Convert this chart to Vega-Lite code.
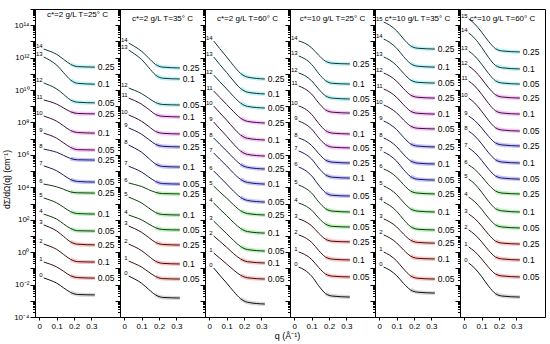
{
"$schema":"https://vega.github.io/schema/vega-lite/v6.json",
"padding":{"left":2,"top":4,"right":4,"bottom":0},
"bounds":"flush",
"spacing":0,
"datasets":{
"m":[
{"k":"a0","n":"0","g":"K","c":""},{"k":"a1","n":"1","g":"R","c":"0.05"},{"k":"a2","n":"2","g":"R","c":"0.1"},{"k":"a3","n":"3","g":"R","c":"0.25"},{"k":"a4","n":"4","g":"G","c":"0.05"},{"k":"a5","n":"5","g":"G","c":"0.1"},{"k":"a6","n":"6","g":"G","c":"0.25"},{"k":"a7","n":"7","g":"B","c":"0.05"},{"k":"a8","n":"8","g":"B","c":"0.25"},{"k":"a9","n":"9","g":"M","c":"0.05"},{"k":"a10","n":"10","g":"M","c":"0.1"},{"k":"a11","n":"11","g":"M","c":"0.25"},{"k":"a12","n":"12","g":"C","c":"0.05"},{"k":"a13","n":"13","g":"C","c":"0.1"},{"k":"a14","n":"14","g":"C","c":"0.25"},
{"k":"b0","n":"0","g":"K","c":""},{"k":"b1","n":"1","g":"R","c":"0.05"},{"k":"b2","n":"2","g":"R","c":"0.1"},{"k":"b3","n":"3","g":"R","c":"0.25"},{"k":"b4","n":"4","g":"G","c":"0.05"},{"k":"b5","n":"5","g":"G","c":"0.1"},{"k":"b6","n":"6","g":"G","c":"0.25"},{"k":"b7","n":"7","g":"B","c":"0.05"},{"k":"b8","n":"8","g":"B","c":"0.1"},{"k":"b9","n":"9","g":"B","c":"0.25"},{"k":"b10","n":"10","g":"M","c":"0.05"},{"k":"b11","n":"11","g":"M","c":"0.1"},{"k":"b12","n":"12","g":"C","c":"0.05"},{"k":"b13","n":"13","g":"C","c":"0.1"},{"k":"b14","n":"14","g":"C","c":"0.25"},
{"k":"c0","n":"0","g":"K","c":""},{"k":"c1","n":"1","g":"R","c":"0.05"},{"k":"c2","n":"2","g":"R","c":"0.1"},{"k":"c3","n":"3","g":"G","c":"0.05"},{"k":"c4","n":"4","g":"G","c":"0.1"},{"k":"c5","n":"5","g":"G","c":"0.25"},{"k":"c6","n":"6","g":"B","c":"0.05"},{"k":"c7","n":"7","g":"B","c":"0.1"},{"k":"c8","n":"8","g":"B","c":"0.25"},{"k":"c9","n":"9","g":"M","c":"0.05"},{"k":"c10","n":"10","g":"M","c":"0.1"},{"k":"c11","n":"11","g":"M","c":"0.25"},{"k":"c12","n":"12","g":"C","c":"0.05"},{"k":"c13","n":"13","g":"C","c":"0.1"},{"k":"c14","n":"14","g":"C","c":"0.25"},
{"k":"d0","n":"0","g":"K","c":""},{"k":"d1","n":"1","g":"R","c":"0.05"},{"k":"d2","n":"2","g":"R","c":"0.1"},{"k":"d3","n":"3","g":"R","c":"0.25"},{"k":"d4","n":"4","g":"G","c":"0.05"},{"k":"d5","n":"5","g":"G","c":"0.1"},{"k":"d6","n":"6","g":"B","c":"0.05"},{"k":"d7","n":"7","g":"B","c":"0.1"},{"k":"d8","n":"8","g":"B","c":"0.25"},{"k":"d9","n":"9","g":"M","c":"0.05"},{"k":"d10","n":"10","g":"M","c":"0.1"},{"k":"d11","n":"11","g":"M","c":"0.25"},{"k":"d12","n":"12","g":"C","c":"0.05"},{"k":"d13","n":"13","g":"C","c":"0.1"},{"k":"d14","n":"14","g":"C","c":"0.25"},
{"k":"e0","n":"0","g":"K","c":""},{"k":"e1","n":"1","g":"R","c":"0.05"},{"k":"e2","n":"2","g":"R","c":"0.1"},{"k":"e3","n":"3","g":"R","c":"0.25"},{"k":"e4","n":"4","g":"G","c":"0.05"},{"k":"e5","n":"5","g":"G","c":"0.1"},{"k":"e6","n":"6","g":"G","c":"0.25"},{"k":"e7","n":"7","g":"B","c":"0.05"},{"k":"e8","n":"8","g":"B","c":"0.1"},{"k":"e9","n":"9","g":"B","c":"0.25"},{"k":"e10","n":"10","g":"M","c":"0.05"},{"k":"e11","n":"11","g":"M","c":"0.1"},{"k":"e12","n":"12","g":"M","c":"0.25"},{"k":"e13","n":"13","g":"C","c":"0.05"},{"k":"e14","n":"14","g":"C","c":"0.1"},{"k":"e15","n":"15","g":"C","c":"0.25"},
{"k":"f0","n":"0","g":"K","c":""},{"k":"f1","n":"1","g":"R","c":"0.05"},{"k":"f2","n":"2","g":"R","c":"0.1"},{"k":"f3","n":"3","g":"R","c":"0.25"},{"k":"f4","n":"4","g":"G","c":"0.05"},{"k":"f5","n":"5","g":"G","c":"0.1"},{"k":"f6","n":"6","g":"G","c":"0.25"},{"k":"f7","n":"7","g":"B","c":"0.05"},{"k":"f8","n":"8","g":"B","c":"0.1"},{"k":"f9","n":"9","g":"B","c":"0.25"},{"k":"f10","n":"10","g":"M","c":"0.05"},{"k":"f11","n":"11","g":"M","c":"0.1"},{"k":"f12","n":"12","g":"M","c":"0.25"},{"k":"f13","n":"13","g":"C","c":"0.05"},{"k":"f14","n":"14","g":"C","c":"0.1"},{"k":"f15","n":"15","g":"C","c":"0.25"}
],
"s":[
{"k":"a14","q":0.025,"v":3.4e12},{"k":"a14","q":0.06,"v":2.5e12},{"k":"a14","q":0.1,"v":1.6e12},{"k":"a14","q":0.14,"v":7.8e11},{"k":"a14","q":0.18,"v":3.9e11},{"k":"a14","q":0.22,"v":2.8e11},{"k":"a14","q":0.32,"v":2.6e11},
{"k":"a13","q":0.025,"v":1.1e12},{"k":"a13","q":0.06,"v":6.9e11},{"k":"a13","q":0.1,"v":3.5e11},{"k":"a13","q":0.14,"v":1.17e11},{"k":"a13","q":0.18,"v":4.2e10},{"k":"a13","q":0.22,"v":2.6e10},{"k":"a13","q":0.32,"v":2.3e10},
{"k":"a12","q":0.025,"v":2.75e10},{"k":"a12","q":0.06,"v":1.95e10},{"k":"a12","q":0.1,"v":1.17e10},{"k":"a12","q":0.14,"v":5.4e9},{"k":"a12","q":0.18,"v":2.45e9},{"k":"a12","q":0.22,"v":1.78e9},{"k":"a12","q":0.32,"v":1.62e9},
{"k":"a11","q":0.025,"v":2.45e9},{"k":"a11","q":0.06,"v":1.95e9},{"k":"a11","q":0.1,"v":1.35e9},{"k":"a11","q":0.14,"v":7.8e8},{"k":"a11","q":0.18,"v":4.6e8},{"k":"a11","q":0.22,"v":3.6e8},{"k":"a11","q":0.32,"v":3.4e8},
{"k":"a10","q":0.025,"v":2.5e8},{"k":"a10","q":0.06,"v":1.86e8},{"k":"a10","q":0.1,"v":1.2e8},{"k":"a10","q":0.14,"v":6.2e7},{"k":"a10","q":0.18,"v":3.2e7},{"k":"a10","q":0.22,"v":2.4e7},{"k":"a10","q":0.32,"v":2.2e7},
{"k":"a9","q":0.025,"v":2.2e7},{"k":"a9","q":0.06,"v":1.66e7},{"k":"a9","q":0.1,"v":1.07e7},{"k":"a9","q":0.14,"v":5.5e6},{"k":"a9","q":0.18,"v":2.9e6},{"k":"a9","q":0.22,"v":2.1e6},{"k":"a9","q":0.32,"v":2.0e6},
{"k":"a8","q":0.025,"v":2.3e6},{"k":"a8","q":0.06,"v":1.9e6},{"k":"a8","q":0.1,"v":1.45e6},{"k":"a8","q":0.14,"v":9.3e5},{"k":"a8","q":0.18,"v":6.0e5},{"k":"a8","q":0.22,"v":5.0e5},{"k":"a8","q":0.32,"v":4.8e5},
{"k":"a7","q":0.025,"v":2.1e5},{"k":"a7","q":0.06,"v":1.58e5},{"k":"a7","q":0.1,"v":1.05e5},{"k":"a7","q":0.14,"v":5.6e4},{"k":"a7","q":0.18,"v":3.0e4},{"k":"a7","q":0.22,"v":2.3e4},{"k":"a7","q":0.32,"v":2.1e4},
{"k":"a6","q":0.025,"v":1.58e4},{"k":"a6","q":0.06,"v":1.35e4},{"k":"a6","q":0.1,"v":1.07e4},{"k":"a6","q":0.14,"v":7600},{"k":"a6","q":0.18,"v":5200},{"k":"a6","q":0.22,"v":4600},{"k":"a6","q":0.32,"v":4400},
{"k":"a5","q":0.025,"v":2200},{"k":"a5","q":0.06,"v":1660},{"k":"a5","q":0.1,"v":1100},{"k":"a5","q":0.14,"v":590},{"k":"a5","q":0.18,"v":316},{"k":"a5","q":0.22,"v":240},{"k":"a5","q":0.32,"v":224},
{"k":"a4","q":0.025,"v":224},{"k":"a4","q":0.06,"v":166},{"k":"a4","q":0.1,"v":110},{"k":"a4","q":0.14,"v":55},{"k":"a4","q":0.18,"v":29},{"k":"a4","q":0.22,"v":21},{"k":"a4","q":0.32,"v":20},
{"k":"a3","q":0.025,"v":48},{"k":"a3","q":0.06,"v":34},{"k":"a3","q":0.1,"v":20.4},{"k":"a3","q":0.14,"v":9.3},{"k":"a3","q":0.18,"v":4.3},{"k":"a3","q":0.22,"v":3.1},{"k":"a3","q":0.32,"v":2.8},
{"k":"a2","q":0.025,"v":3.16},{"k":"a2","q":0.06,"v":2.34},{"k":"a2","q":0.1,"v":1.48},{"k":"a2","q":0.14,"v":0.72},{"k":"a2","q":0.18,"v":0.36},{"k":"a2","q":0.22,"v":0.26},{"k":"a2","q":0.32,"v":0.245},
{"k":"a1","q":0.025,"v":0.245},{"k":"a1","q":0.06,"v":0.186},{"k":"a1","q":0.1,"v":0.123},{"k":"a1","q":0.14,"v":0.066},{"k":"a1","q":0.18,"v":0.035},{"k":"a1","q":0.22,"v":0.027},{"k":"a1","q":0.32,"v":0.025},
{"k":"a0","q":0.025,"v":0.0257},{"k":"a0","q":0.06,"v":0.019},{"k":"a0","q":0.1,"v":0.0123},{"k":"a0","q":0.14,"v":0.0063},{"k":"a0","q":0.18,"v":0.0033},{"k":"a0","q":0.22,"v":0.00245},{"k":"a0","q":0.32,"v":0.0023},
{"k":"b14","q":0.025,"v":7.9e12},{"k":"b14","q":0.06,"v":4.8e12},{"k":"b14","q":0.1,"v":2.45e12},{"k":"b14","q":0.14,"v":9.5e11},{"k":"b14","q":0.18,"v":3.8e11},{"k":"b14","q":0.22,"v":2.6e11},{"k":"b14","q":0.32,"v":2.3e11},
{"k":"b13","q":0.025,"v":2.95e12},{"k":"b13","q":0.06,"v":1.66e12},{"k":"b13","q":0.1,"v":7.6e11},{"k":"b13","q":0.14,"v":2.5e11},{"k":"b13","q":0.18,"v":8.5e10},{"k":"b13","q":0.22,"v":5.4e10},{"k":"b13","q":0.32,"v":4.8e10},
{"k":"b12","q":0.025,"v":1.35e10},{"k":"b12","q":0.06,"v":9.5e9},{"k":"b12","q":0.1,"v":6.0e9},{"k":"b12","q":0.14,"v":3.16e9},{"k":"b12","q":0.18,"v":1.7e9},{"k":"b12","q":0.22,"v":1.29e9},{"k":"b12","q":0.32,"v":1.2e9},
{"k":"b11","q":0.025,"v":3.2e9},{"k":"b11","q":0.06,"v":2.24e9},{"k":"b11","q":0.1,"v":1.32e9},{"k":"b11","q":0.14,"v":6.5e8},{"k":"b11","q":0.18,"v":3.16e8},{"k":"b11","q":0.22,"v":2.4e8},{"k":"b11","q":0.32,"v":2.2e8},
{"k":"b10","q":0.025,"v":2.9e8},{"k":"b10","q":0.06,"v":2.0e8},{"k":"b10","q":0.1,"v":1.17e8},{"k":"b10","q":0.14,"v":5.75e7},{"k":"b10","q":0.18,"v":2.8e7},{"k":"b10","q":0.22,"v":2.15e7},{"k":"b10","q":0.32,"v":1.95e7},
{"k":"b9","q":0.025,"v":4.6e7},{"k":"b9","q":0.06,"v":3.16e7},{"k":"b9","q":0.1,"v":1.86e7},{"k":"b9","q":0.14,"v":9.1e6},{"k":"b9","q":0.18,"v":4.5e6},{"k":"b9","q":0.22,"v":3.4e6},{"k":"b9","q":0.32,"v":3.1e6},
{"k":"b8","q":0.025,"v":4.1e6},{"k":"b8","q":0.06,"v":2.6e6},{"k":"b8","q":0.1,"v":1.45e6},{"k":"b8","q":0.14,"v":6.2e5},{"k":"b8","q":0.18,"v":2.75e5},{"k":"b8","q":0.22,"v":1.95e5},{"k":"b8","q":0.32,"v":1.78e5},
{"k":"b7","q":0.025,"v":2.0e5},{"k":"b7","q":0.06,"v":1.41e5},{"k":"b7","q":0.1,"v":8.7e4},{"k":"b7","q":0.14,"v":4.4e4},{"k":"b7","q":0.18,"v":2.3e4},{"k":"b7","q":0.22,"v":1.7e4},{"k":"b7","q":0.32,"v":1.58e4},
{"k":"b6","q":0.025,"v":1.86e4},{"k":"b6","q":0.06,"v":1.48e4},{"k":"b6","q":0.1,"v":1.12e4},{"k":"b6","q":0.14,"v":7200},{"k":"b6","q":0.18,"v":4900},{"k":"b6","q":0.22,"v":4100},{"k":"b6","q":0.32,"v":3900},
{"k":"b5","q":0.025,"v":2500},{"k":"b5","q":0.06,"v":1740},{"k":"b5","q":0.1,"v":1070},{"k":"b5","q":0.14,"v":540},{"k":"b5","q":0.18,"v":280},{"k":"b5","q":0.22,"v":210},{"k":"b5","q":0.32,"v":195},
{"k":"b4","q":0.025,"v":195},{"k":"b4","q":0.06,"v":145},{"k":"b4","q":0.1,"v":98},{"k":"b4","q":0.14,"v":55},{"k":"b4","q":0.18,"v":32},{"k":"b4","q":0.22,"v":25},{"k":"b4","q":0.32,"v":23.4},
{"k":"b3","q":0.025,"v":41},{"k":"b3","q":0.06,"v":28},{"k":"b3","q":0.1,"v":16.6},{"k":"b3","q":0.14,"v":8.1},{"k":"b3","q":0.18,"v":4.0},{"k":"b3","q":0.22,"v":3.0},{"k":"b3","q":0.32,"v":2.75},
{"k":"b2","q":0.025,"v":3.16},{"k":"b2","q":0.06,"v":2.14},{"k":"b2","q":0.1,"v":1.23},{"k":"b2","q":0.14,"v":0.575},{"k":"b2","q":0.18,"v":0.275},{"k":"b2","q":0.22,"v":0.204},{"k":"b2","q":0.32,"v":0.186},
{"k":"b1","q":0.025,"v":0.282},{"k":"b1","q":0.06,"v":0.195},{"k":"b1","q":0.1,"v":0.12},{"k":"b1","q":0.14,"v":0.06},{"k":"b1","q":0.18,"v":0.0316},{"k":"b1","q":0.22,"v":0.0234},{"k":"b1","q":0.32,"v":0.0219},
{"k":"b0","q":0.025,"v":0.0339},{"k":"b0","q":0.06,"v":0.0219},{"k":"b0","q":0.1,"v":0.012},{"k":"b0","q":0.14,"v":0.0051},{"k":"b0","q":0.18,"v":0.0023},{"k":"b0","q":0.22,"v":0.00162},{"k":"b0","q":0.32,"v":0.00148},
{"k":"c14","q":0.025,"v":1.07e13},{"k":"c14","q":0.06,"v":3.6e12},{"k":"c14","q":0.1,"v":1.1e12},{"k":"c14","q":0.14,"v":3.16e11},{"k":"c14","q":0.18,"v":1.07e11},{"k":"c14","q":0.22,"v":6.3e10},{"k":"c14","q":0.32,"v":4.8e10},
{"k":"c13","q":0.025,"v":1.1e12},{"k":"c13","q":0.06,"v":3.8e11},{"k":"c13","q":0.1,"v":1.2e11},{"k":"c13","q":0.14,"v":3.6e10},{"k":"c13","q":0.18,"v":1.26e10},{"k":"c13","q":0.22,"v":7.4e9},{"k":"c13","q":0.32,"v":5.75e9},
{"k":"c12","q":0.025,"v":8.5e10},{"k":"c12","q":0.06,"v":3.3e10},{"k":"c12","q":0.1,"v":1.17e10},{"k":"c12","q":0.14,"v":4.0e9},{"k":"c12","q":0.18,"v":1.58e9},{"k":"c12","q":0.22,"v":9.8e8},{"k":"c12","q":0.32,"v":7.8e8},
{"k":"c11","q":0.025,"v":8.7e9},{"k":"c11","q":0.06,"v":3.55e9},{"k":"c11","q":0.1,"v":1.29e9},{"k":"c11","q":0.14,"v":4.6e8},{"k":"c11","q":0.18,"v":1.86e8},{"k":"c11","q":0.22,"v":1.17e8},{"k":"c11","q":0.32,"v":9.3e7},
{"k":"c10","q":0.025,"v":1.05e9},{"k":"c10","q":0.06,"v":4.0e8},{"k":"c10","q":0.1,"v":1.38e8},{"k":"c10","q":0.14,"v":4.5e7},{"k":"c10","q":0.18,"v":1.7e7},{"k":"c10","q":0.22,"v":1.05e7},{"k":"c10","q":0.32,"v":8.3e6},
{"k":"c9","q":0.025,"v":1.07e8},{"k":"c9","q":0.06,"v":4.1e7},{"k":"c9","q":0.1,"v":1.41e7},{"k":"c9","q":0.14,"v":4.6e6},{"k":"c9","q":0.18,"v":1.74e6},{"k":"c9","q":0.22,"v":1.07e6},{"k":"c9","q":0.32,"v":8.5e5},
{"k":"c8","q":0.025,"v":1.1e7},{"k":"c8","q":0.06,"v":4.6e6},{"k":"c8","q":0.1,"v":1.74e6},{"k":"c8","q":0.14,"v":6.3e5},{"k":"c8","q":0.18,"v":2.6e5},{"k":"c8","q":0.22,"v":1.7e5},{"k":"c8","q":0.32,"v":1.35e5},
{"k":"c7","q":0.025,"v":1.32e6},{"k":"c7","q":0.06,"v":5.5e5},{"k":"c7","q":0.1,"v":2.1e5},{"k":"c7","q":0.14,"v":7.4e4},{"k":"c7","q":0.18,"v":3.1e4},{"k":"c7","q":0.22,"v":2.0e4},{"k":"c7","q":0.32,"v":1.58e4},
{"k":"c6","q":0.025,"v":1.02e5},{"k":"c6","q":0.06,"v":4.3e4},{"k":"c6","q":0.1,"v":1.58e4},{"k":"c6","q":0.14,"v":5750},{"k":"c6","q":0.18,"v":2400},{"k":"c6","q":0.22,"v":1550},{"k":"c6","q":0.32,"v":1230},
{"k":"c5","q":0.025,"v":1.2e4},{"k":"c5","q":0.06,"v":5250},{"k":"c5","q":0.1,"v":2140},{"k":"c5","q":0.14,"v":830},{"k":"c5","q":0.18,"v":360},{"k":"c5","q":0.22,"v":240},{"k":"c5","q":0.32,"v":195},
{"k":"c4","q":0.025,"v":1070},{"k":"c4","q":0.06,"v":460},{"k":"c4","q":0.1,"v":178},{"k":"c4","q":0.14,"v":68},{"k":"c4","q":0.18,"v":29},{"k":"c4","q":0.22,"v":18.6},{"k":"c4","q":0.32,"v":15},
{"k":"c3","q":0.025,"v":83},{"k":"c3","q":0.06,"v":35.5},{"k":"c3","q":0.1,"v":13.8},{"k":"c3","q":0.14,"v":5.25},{"k":"c3","q":0.18,"v":2.24},{"k":"c3","q":0.22,"v":1.45},{"k":"c3","q":0.32,"v":1.17},
{"k":"c2","q":0.025,"v":10},{"k":"c2","q":0.06,"v":4.7},{"k":"c2","q":0.1,"v":2.0},{"k":"c2","q":0.14,"v":0.81},{"k":"c2","q":0.18,"v":0.38},{"k":"c2","q":0.22,"v":0.257},{"k":"c2","q":0.32,"v":0.214},
{"k":"c1","q":0.025,"v":0.89},{"k":"c1","q":0.06,"v":0.43},{"k":"c1","q":0.1,"v":0.186},{"k":"c1","q":0.14,"v":0.079},{"k":"c1","q":0.18,"v":0.038},{"k":"c1","q":0.22,"v":0.0263},{"k":"c1","q":0.32,"v":0.0219},
{"k":"c0","q":0.025,"v":0.105},{"k":"c0","q":0.06,"v":0.038},{"k":"c0","q":0.1,"v":0.0123},{"k":"c0","q":0.14,"v":0.0038},{"k":"c0","q":0.18,"v":0.00135},{"k":"c0","q":0.22,"v":0.00081},{"k":"c0","q":0.32,"v":0.00063},
{"k":"d14","q":0.025,"v":1.07e13},{"k":"d14","q":0.06,"v":7.8e12},{"k":"d14","q":0.1,"v":4.0e12},{"k":"d14","q":0.14,"v":1.41e12},{"k":"d14","q":0.18,"v":6.0e11},{"k":"d14","q":0.22,"v":4.5e11},{"k":"d14","q":0.32,"v":4.1e11},
{"k":"d13","q":0.025,"v":1.26e12},{"k":"d13","q":0.06,"v":8.5e11},{"k":"d13","q":0.1,"v":3.8e11},{"k":"d13","q":0.14,"v":1.07e11},{"k":"d13","q":0.18,"v":3.8e10},{"k":"d13","q":0.22,"v":2.6e10},{"k":"d13","q":0.32,"v":2.34e10},
{"k":"d12","q":0.025,"v":1.12e11},{"k":"d12","q":0.06,"v":7.8e10},{"k":"d12","q":0.1,"v":3.7e10},{"k":"d12","q":0.14,"v":1.15e10},{"k":"d12","q":0.18,"v":4.4e9},{"k":"d12","q":0.22,"v":3.16e9},{"k":"d12","q":0.32,"v":2.8e9},
{"k":"d11","q":0.025,"v":1.78e10},{"k":"d11","q":0.06,"v":1.2e10},{"k":"d11","q":0.1,"v":5.6e9},{"k":"d11","q":0.14,"v":1.62e9},{"k":"d11","q":0.18,"v":6.0e8},{"k":"d11","q":0.22,"v":4.3e8},{"k":"d11","q":0.32,"v":3.8e8},
{"k":"d10","q":0.025,"v":1.05e9},{"k":"d10","q":0.06,"v":7.1e8},{"k":"d10","q":0.1,"v":3.16e8},{"k":"d10","q":0.14,"v":8.9e7},{"k":"d10","q":0.18,"v":3.16e7},{"k":"d10","q":0.22,"v":2.2e7},{"k":"d10","q":0.32,"v":1.95e7},
{"k":"d9","q":0.025,"v":1.23e8},{"k":"d9","q":0.06,"v":8.3e7},{"k":"d9","q":0.1,"v":3.9e7},{"k":"d9","q":0.14,"v":1.15e7},{"k":"d9","q":0.18,"v":4.3e6},{"k":"d9","q":0.22,"v":3.0e6},{"k":"d9","q":0.32,"v":2.7e6},
{"k":"d8","q":0.025,"v":1.1e7},{"k":"d8","q":0.06,"v":7.8e6},{"k":"d8","q":0.1,"v":3.8e6},{"k":"d8","q":0.14,"v":1.23e6},{"k":"d8","q":0.18,"v":4.8e5},{"k":"d8","q":0.22,"v":3.55e5},{"k":"d8","q":0.32,"v":3.16e5},
{"k":"d7","q":0.025,"v":1.74e6},{"k":"d7","q":0.06,"v":1.17e6},{"k":"d7","q":0.1,"v":5.5e5},{"k":"d7","q":0.14,"v":1.58e5},{"k":"d7","q":0.18,"v":5.9e4},{"k":"d7","q":0.22,"v":4.2e4},{"k":"d7","q":0.32,"v":3.7e4},
{"k":"d6","q":0.025,"v":1.78e5},{"k":"d6","q":0.06,"v":1.17e5},{"k":"d6","q":0.1,"v":5.1e4},{"k":"d6","q":0.14,"v":1.38e4},{"k":"d6","q":0.18,"v":4700},{"k":"d6","q":0.22,"v":3200},{"k":"d6","q":0.32,"v":2900},
{"k":"d5","q":0.025,"v":1.38e4},{"k":"d5","q":0.06,"v":9300},{"k":"d5","q":0.1,"v":4400},{"k":"d5","q":0.14,"v":1290},{"k":"d5","q":0.18,"v":480},{"k":"d5","q":0.22,"v":340},{"k":"d5","q":0.32,"v":300},
{"k":"d4","q":0.025,"v":1070},{"k":"d4","q":0.06,"v":760},{"k":"d4","q":0.1,"v":390},{"k":"d4","q":0.14,"v":129},{"k":"d4","q":0.18,"v":54},{"k":"d4","q":0.22,"v":39},{"k":"d4","q":0.32,"v":35.5},
{"k":"d3","q":0.025,"v":112},{"k":"d3","q":0.06,"v":81},{"k":"d3","q":0.1,"v":42},{"k":"d3","q":0.14,"v":14.8},{"k":"d3","q":0.18,"v":6.3},{"k":"d3","q":0.22,"v":4.7},{"k":"d3","q":0.32,"v":4.3},
{"k":"d2","q":0.025,"v":11.5},{"k":"d2","q":0.06,"v":8.1},{"k":"d2","q":0.1,"v":4.0},{"k":"d2","q":0.14,"v":1.29},{"k":"d2","q":0.18,"v":0.5},{"k":"d2","q":0.22,"v":0.37},{"k":"d2","q":0.32,"v":0.33},
{"k":"d1","q":0.025,"v":1.02},{"k":"d1","q":0.06,"v":0.72},{"k":"d1","q":0.1,"v":0.355},{"k":"d1","q":0.14,"v":0.115},{"k":"d1","q":0.18,"v":0.0447},{"k":"d1","q":0.22,"v":0.0331},{"k":"d1","q":0.32,"v":0.0295},
{"k":"d0","q":0.025,"v":0.12},{"k":"d0","q":0.06,"v":0.078},{"k":"d0","q":0.1,"v":0.0331},{"k":"d0","q":0.14,"v":0.0085},{"k":"d0","q":0.18,"v":0.0028},{"k":"d0","q":0.22,"v":0.00195},{"k":"d0","q":0.32,"v":0.0017},
{"k":"e15","q":0.025,"v":1.58e14},{"k":"e15","q":0.06,"v":1.0e14},{"k":"e15","q":0.1,"v":4.5e13},{"k":"e15","q":0.14,"v":1.41e13},{"k":"e15","q":0.18,"v":5.4e12},{"k":"e15","q":0.22,"v":3.8e12},{"k":"e15","q":0.32,"v":3.4e12},
{"k":"e14","q":0.025,"v":1.41e13},{"k":"e14","q":0.06,"v":8.7e12},{"k":"e14","q":0.1,"v":3.8e12},{"k":"e14","q":0.14,"v":1.15e12},{"k":"e14","q":0.18,"v":4.3e11},{"k":"e14","q":0.22,"v":2.95e11},{"k":"e14","q":0.32,"v":2.6e11},
{"k":"e13","q":0.025,"v":1.1e12},{"k":"e13","q":0.06,"v":7.1e11},{"k":"e13","q":0.1,"v":3.2e11},{"k":"e13","q":0.14,"v":1.07e11},{"k":"e13","q":0.18,"v":4.2e10},{"k":"e13","q":0.22,"v":3.0e10},{"k":"e13","q":0.32,"v":2.7e10},
{"k":"e12","q":0.025,"v":1.12e11},{"k":"e12","q":0.06,"v":7.4e10},{"k":"e12","q":0.1,"v":3.5e10},{"k":"e12","q":0.14,"v":1.2e10},{"k":"e12","q":0.18,"v":4.9e9},{"k":"e12","q":0.22,"v":3.6e9},{"k":"e12","q":0.32,"v":3.2e9},
{"k":"e11","q":0.025,"v":1.15e10},{"k":"e11","q":0.06,"v":7.6e9},{"k":"e11","q":0.1,"v":3.55e9},{"k":"e11","q":0.14,"v":1.23e9},{"k":"e11","q":0.18,"v":5.0e8},{"k":"e11","q":0.22,"v":3.7e8},{"k":"e11","q":0.32,"v":3.3e8},
{"k":"e10","q":0.025,"v":1.2e9},{"k":"e10","q":0.06,"v":7.9e8},{"k":"e10","q":0.1,"v":3.9e8},{"k":"e10","q":0.14,"v":1.41e8},{"k":"e10","q":0.18,"v":6.0e7},{"k":"e10","q":0.22,"v":4.4e7},{"k":"e10","q":0.32,"v":4.0e7},
{"k":"e9","q":0.025,"v":1.23e8},{"k":"e9","q":0.06,"v":7.9e7},{"k":"e9","q":0.1,"v":3.6e7},{"k":"e9","q":0.14,"v":1.2e7},{"k":"e9","q":0.18,"v":4.8e6},{"k":"e9","q":0.22,"v":3.5e6},{"k":"e9","q":0.32,"v":3.1e6},
{"k":"e8","q":0.025,"v":1.1e7},{"k":"e8","q":0.06,"v":7.1e6},{"k":"e8","q":0.1,"v":3.2e6},{"k":"e8","q":0.14,"v":1.07e6},{"k":"e8","q":0.18,"v":4.3e5},{"k":"e8","q":0.22,"v":3.1e5},{"k":"e8","q":0.32,"v":2.75e5},
{"k":"e7","q":0.025,"v":1.51e6},{"k":"e7","q":0.06,"v":9.3e5},{"k":"e7","q":0.1,"v":4.1e5},{"k":"e7","q":0.14,"v":1.23e5},{"k":"e7","q":0.18,"v":4.6e4},{"k":"e7","q":0.22,"v":3.16e4},{"k":"e7","q":0.32,"v":2.8e4},
{"k":"e6","q":0.025,"v":1.35e5},{"k":"e6","q":0.06,"v":8.9e4},{"k":"e6","q":0.1,"v":4.2e4},{"k":"e6","q":0.14,"v":1.45e4},{"k":"e6","q":0.18,"v":5900},{"k":"e6","q":0.22,"v":4400},{"k":"e6","q":0.32,"v":3900},
{"k":"e5","q":0.025,"v":1.2e4},{"k":"e5","q":0.06,"v":7800},{"k":"e5","q":0.1,"v":3550},{"k":"e5","q":0.14,"v":1170},{"k":"e5","q":0.18,"v":470},{"k":"e5","q":0.22,"v":340},{"k":"e5","q":0.32,"v":300},
{"k":"e4","q":0.025,"v":1230},{"k":"e4","q":0.06,"v":760},{"k":"e4","q":0.1,"v":330},{"k":"e4","q":0.14,"v":102},{"k":"e4","q":0.18,"v":38},{"k":"e4","q":0.22,"v":26},{"k":"e4","q":0.32,"v":23.4},
{"k":"e3","q":0.025,"v":112},{"k":"e3","q":0.06,"v":74},{"k":"e3","q":0.1,"v":36},{"k":"e3","q":0.14,"v":12.9},{"k":"e3","q":0.18,"v":5.5},{"k":"e3","q":0.22,"v":4.0},{"k":"e3","q":0.32,"v":3.6},
{"k":"e2","q":0.025,"v":11.5},{"k":"e2","q":0.06,"v":7.6},{"k":"e2","q":0.1,"v":3.7},{"k":"e2","q":0.14,"v":1.35},{"k":"e2","q":0.18,"v":0.575},{"k":"e2","q":0.22,"v":0.417},{"k":"e2","q":0.32,"v":0.38},
{"k":"e1","q":0.025,"v":1.02},{"k":"e1","q":0.06,"v":0.646},{"k":"e1","q":0.1,"v":0.288},{"k":"e1","q":0.14,"v":0.091},{"k":"e1","q":0.18,"v":0.0347},{"k":"e1","q":0.22,"v":0.0245},{"k":"e1","q":0.32,"v":0.0219},
{"k":"e0","q":0.025,"v":0.12},{"k":"e0","q":0.06,"v":0.078},{"k":"e0","q":0.1,"v":0.0355},{"k":"e0","q":0.14,"v":0.0117},{"k":"e0","q":0.18,"v":0.0047},{"k":"e0","q":0.22,"v":0.0034},{"k":"e0","q":0.32,"v":0.003},
{"k":"f15","q":0.025,"v":2.4e14},{"k":"f15","q":0.06,"v":1.2e14},{"k":"f15","q":0.1,"v":3.7e13},{"k":"f15","q":0.14,"v":1.0e13},{"k":"f15","q":0.18,"v":3.55e12},{"k":"f15","q":0.22,"v":2.57e12},{"k":"f15","q":0.32,"v":2.24e12},
{"k":"f14","q":0.025,"v":3.3e13},{"k":"f14","q":0.06,"v":1.55e13},{"k":"f14","q":0.1,"v":4.3e12},{"k":"f14","q":0.14,"v":1.02e12},{"k":"f14","q":0.18,"v":3.3e11},{"k":"f14","q":0.22,"v":2.34e11},{"k":"f14","q":0.32,"v":2.0e11},
{"k":"f13","q":0.025,"v":2.57e12},{"k":"f13","q":0.06,"v":1.26e12},{"k":"f13","q":0.1,"v":3.9e11},{"k":"f13","q":0.14,"v":1.05e11},{"k":"f13","q":0.18,"v":3.7e10},{"k":"f13","q":0.22,"v":2.7e10},{"k":"f13","q":0.32,"v":2.34e10},
{"k":"f12","q":0.025,"v":3.0e11},{"k":"f12","q":0.06,"v":1.51e11},{"k":"f12","q":0.1,"v":4.9e10},{"k":"f12","q":0.14,"v":1.38e10},{"k":"f12","q":0.18,"v":5.1e9},{"k":"f12","q":0.22,"v":3.7e9},{"k":"f12","q":0.32,"v":3.2e9},
{"k":"f11","q":0.025,"v":3.6e10},{"k":"f11","q":0.06,"v":1.78e10},{"k":"f11","q":0.1,"v":5.5e9},{"k":"f11","q":0.14,"v":1.48e9},{"k":"f11","q":0.18,"v":5.25e8},{"k":"f11","q":0.22,"v":3.8e8},{"k":"f11","q":0.32,"v":3.3e8},
{"k":"f10","q":0.025,"v":3.2e9},{"k":"f10","q":0.06,"v":1.58e9},{"k":"f10","q":0.1,"v":4.9e8},{"k":"f10","q":0.14,"v":1.32e8},{"k":"f10","q":0.18,"v":4.7e7},{"k":"f10","q":0.22,"v":3.4e7},{"k":"f10","q":0.32,"v":2.95e7},
{"k":"f9","q":0.025,"v":2.5e8},{"k":"f9","q":0.06,"v":1.32e8},{"k":"f9","q":0.1,"v":4.6e7},{"k":"f9","q":0.14,"v":1.38e7},{"k":"f9","q":0.18,"v":5.4e6},{"k":"f9","q":0.22,"v":4.1e6},{"k":"f9","q":0.32,"v":3.55e6},
{"k":"f8","q":0.025,"v":2.95e7},{"k":"f8","q":0.06,"v":1.48e7},{"k":"f8","q":0.1,"v":4.8e6},{"k":"f8","q":0.14,"v":1.35e6},{"k":"f8","q":0.18,"v":5.0e5},{"k":"f8","q":0.22,"v":3.6e5},{"k":"f8","q":0.32,"v":3.16e5},
{"k":"f7","q":0.025,"v":2.7e6},{"k":"f7","q":0.06,"v":1.38e6},{"k":"f7","q":0.1,"v":4.6e5},{"k":"f7","q":0.14,"v":1.32e5},{"k":"f7","q":0.18,"v":5.0e4},{"k":"f7","q":0.22,"v":3.7e4},{"k":"f7","q":0.32,"v":3.2e4},
{"k":"f6","q":0.025,"v":2.4e5},{"k":"f6","q":0.06,"v":1.29e5},{"k":"f6","q":0.1,"v":4.6e4},{"k":"f6","q":0.14,"v":1.45e4},{"k":"f6","q":0.18,"v":5900},{"k":"f6","q":0.22,"v":4400},{"k":"f6","q":0.32,"v":3900},
{"k":"f5","q":0.025,"v":3.2e4},{"k":"f5","q":0.06,"v":1.62e4},{"k":"f5","q":0.1,"v":5000},{"k":"f5","q":0.14,"v":1350},{"k":"f5","q":0.18,"v":480},{"k":"f5","q":0.22,"v":350},{"k":"f5","q":0.32,"v":300},
{"k":"f4","q":0.025,"v":2500},{"k":"f4","q":0.06,"v":1290},{"k":"f4","q":0.1,"v":440},{"k":"f4","q":0.14,"v":126},{"k":"f4","q":0.18,"v":48},{"k":"f4","q":0.22,"v":35.5},{"k":"f4","q":0.32,"v":31},
{"k":"f3","q":0.025,"v":224},{"k":"f3","q":0.06,"v":117},{"k":"f3","q":0.1,"v":41},{"k":"f3","q":0.14,"v":12.3},{"k":"f3","q":0.18,"v":4.8},{"k":"f3","q":0.22,"v":3.6},{"k":"f3","q":0.32,"v":3.16},
{"k":"f2","q":0.025,"v":23.4},{"k":"f2","q":0.06,"v":12.3},{"k":"f2","q":0.1,"v":4.3},{"k":"f2","q":0.14,"v":1.29},{"k":"f2","q":0.18,"v":0.5},{"k":"f2","q":0.22,"v":0.38},{"k":"f2","q":0.32,"v":0.33},
{"k":"f1","q":0.025,"v":2.09},{"k":"f1","q":0.06,"v":1.1},{"k":"f1","q":0.1,"v":0.38},{"k":"f1","q":0.14,"v":0.115},{"k":"f1","q":0.18,"v":0.0447},{"k":"f1","q":0.22,"v":0.0339},{"k":"f1","q":0.32,"v":0.0295},
{"k":"f0","q":0.025,"v":0.214},{"k":"f0","q":0.06,"v":0.102},{"k":"f0","q":0.1,"v":0.031},{"k":"f0","q":0.14,"v":0.0079},{"k":"f0","q":0.18,"v":0.00275},{"k":"f0","q":0.22,"v":0.00195},{"k":"f0","q":0.32,"v":0.0017}
]},
"hconcat":[
{"width":85,"height":308,"title":{"text":"c*=2 g/L   T=25° C","offset":-14},"data":{"name":"s"},
"transform":[{"filter":"indexof(datum.k,'a')==0"},{"lookup":"k","from":{"data":{"name":"m"},"key":"k","fields":["n","g","c"]}}],
"encoding":{"x":{"field":"q","type":"quantitative","scale":{"domain":[-0.025,0.465],"nice":false,"zero":false},"axis":{"values":[0,0.1,0.2,0.3],"format":"~g","title":null}},
"y":{"field":"v","type":"quantitative","scale":{"type":"log","domain":[0.0001,1e15],"nice":false},"axis":{"tickCount":200,"labelOverlap":false,"labelExpr":"abs(log(datum.value)/LN10-round(log(datum.value)/LN10))<0.001 && (round(log(datum.value)/LN10)+4)%2==0 ? ['10⁻⁴','10⁻²','10⁰','10²','10⁴','10⁶','10⁸','10¹⁰','10¹²','10¹⁴'][(round(log(datum.value)/LN10)+4)/2] : ''","tickSize":{"condition":{"test":"abs(log(datum.value)/LN10-round(log(datum.value)/LN10))<0.001","value":5},"value":2.5},"title":"dΣ/dΩ(q) (cm⁻¹)","titleFontSize":8.5,"titleFontWeight":"normal","titlePadding":2,"labelPadding":1,"titleY":170}}},
"layer":[
{"transform":[{"filter":"datum.q>=0.18"}],"mark":{"type":"line","strokeWidth":4,"opacity":0.4,"interpolate":"monotone"},"encoding":{"color":{"field":"g","type":"nominal","scale":{"domain":["K","R","G","B","M","C"],"range":["#a0a0a0","#ff6e6e","#5edc5e","#6e6eff","#f06ef0","#5fe0e6"]},"legend":null},"detail":{"field":"k"}}},
{"mark":{"type":"line","strokeWidth":1,"interpolate":"monotone"},"encoding":{"stroke":{"field":"g","type":"nominal","scale":{"domain":["K","R","G","B","M","C"],"range":["#111111","#3a1010","#103a10","#1a1a55","#3a103a","#0f3838"]},"legend":null},"detail":{"field":"k"}}},
{"transform":[{"filter":"datum.q==0.025"}],"mark":{"type":"text","align":"right","dx":-1,"dy":-3,"fontSize":6},"encoding":{"text":{"field":"n"}}},
{"transform":[{"filter":"datum.q==0.32 && datum.g!='K'"}],"mark":{"type":"text","align":"left","dx":3,"fontSize":8.5},"encoding":{"text":{"field":"c"}}}
]},
{"width":85,"height":308,"title":{"text":"c*=2 g/L   T=35° C","offset":-14},"data":{"name":"s"},
"transform":[{"filter":"indexof(datum.k,'b')==0"},{"lookup":"k","from":{"data":{"name":"m"},"key":"k","fields":["n","g","c"]}}],
"encoding":{"x":{"field":"q","type":"quantitative","scale":{"domain":[-0.025,0.465],"nice":false,"zero":false},"axis":{"values":[0,0.1,0.2,0.3],"format":"~g","title":null}},
"y":{"field":"v","type":"quantitative","scale":{"type":"log","domain":[0.0001,1e15],"nice":false},"axis":{"tickCount":200,"labels":false,"title":null,"tickSize":{"condition":{"test":"abs(log(datum.value)/LN10-round(log(datum.value)/LN10))<0.001","value":5},"value":2.5}}}},
"layer":[
{"transform":[{"filter":"datum.q>=0.18"}],"mark":{"type":"line","strokeWidth":4,"opacity":0.4,"interpolate":"monotone"},"encoding":{"color":{"field":"g","type":"nominal","scale":{"domain":["K","R","G","B","M","C"],"range":["#a0a0a0","#ff6e6e","#5edc5e","#6e6eff","#f06ef0","#5fe0e6"]},"legend":null},"detail":{"field":"k"}}},
{"mark":{"type":"line","strokeWidth":1,"interpolate":"monotone"},"encoding":{"stroke":{"field":"g","type":"nominal","scale":{"domain":["K","R","G","B","M","C"],"range":["#111111","#3a1010","#103a10","#1a1a55","#3a103a","#0f3838"]},"legend":null},"detail":{"field":"k"}}},
{"transform":[{"filter":"datum.q==0.025"}],"mark":{"type":"text","align":"right","dx":-1,"dy":-3,"fontSize":6},"encoding":{"text":{"field":"n"}}},
{"transform":[{"filter":"datum.q==0.32 && datum.g!='K'"}],"mark":{"type":"text","align":"left","dx":3,"fontSize":8.5},"encoding":{"text":{"field":"c"}}}
]},
{"width":85,"height":308,"title":{"text":"c*=2 g/L   T=60° C","offset":-14},"data":{"name":"s"},
"transform":[{"filter":"indexof(datum.k,'c')==0"},{"lookup":"k","from":{"data":{"name":"m"},"key":"k","fields":["n","g","c"]}}],
"encoding":{"x":{"field":"q","type":"quantitative","scale":{"domain":[-0.025,0.465],"nice":false,"zero":false},"axis":{"values":[0,0.1,0.2,0.3],"format":"~g","title":null}},
"y":{"field":"v","type":"quantitative","scale":{"type":"log","domain":[0.0001,1e15],"nice":false},"axis":{"tickCount":200,"labels":false,"title":null,"tickSize":{"condition":{"test":"abs(log(datum.value)/LN10-round(log(datum.value)/LN10))<0.001","value":5},"value":2.5}}}},
"layer":[
{"transform":[{"filter":"datum.q>=0.18"}],"mark":{"type":"line","strokeWidth":4,"opacity":0.4,"interpolate":"monotone"},"encoding":{"color":{"field":"g","type":"nominal","scale":{"domain":["K","R","G","B","M","C"],"range":["#a0a0a0","#ff6e6e","#5edc5e","#6e6eff","#f06ef0","#5fe0e6"]},"legend":null},"detail":{"field":"k"}}},
{"mark":{"type":"line","strokeWidth":1,"interpolate":"monotone"},"encoding":{"stroke":{"field":"g","type":"nominal","scale":{"domain":["K","R","G","B","M","C"],"range":["#111111","#3a1010","#103a10","#1a1a55","#3a103a","#0f3838"]},"legend":null},"detail":{"field":"k"}}},
{"transform":[{"filter":"datum.q==0.025"}],"mark":{"type":"text","align":"right","dx":-1,"dy":-3,"fontSize":6},"encoding":{"text":{"field":"n"}}},
{"transform":[{"filter":"datum.q==0.32 && datum.g!='K'"}],"mark":{"type":"text","align":"left","dx":3,"fontSize":8.5},"encoding":{"text":{"field":"c"}}}
]},
{"width":85,"height":308,"title":{"text":"c*=10 g/L  T=25° C","offset":-14},"data":{"name":"s"},
"transform":[{"filter":"indexof(datum.k,'d')==0"},{"lookup":"k","from":{"data":{"name":"m"},"key":"k","fields":["n","g","c"]}}],
"encoding":{"x":{"field":"q","type":"quantitative","scale":{"domain":[-0.025,0.465],"nice":false,"zero":false},"axis":{"values":[0,0.1,0.2,0.3],"format":"~g","title":"q (Å⁻¹)","titleX":-3,"titleAlign":"center","titleFontSize":9,"titleFontWeight":"normal","titlePadding":1}},
"y":{"field":"v","type":"quantitative","scale":{"type":"log","domain":[0.0001,1e15],"nice":false},"axis":{"tickCount":200,"labels":false,"title":null,"tickSize":{"condition":{"test":"abs(log(datum.value)/LN10-round(log(datum.value)/LN10))<0.001","value":5},"value":2.5}}}},
"layer":[
{"transform":[{"filter":"datum.q>=0.18"}],"mark":{"type":"line","strokeWidth":4,"opacity":0.4,"interpolate":"monotone"},"encoding":{"color":{"field":"g","type":"nominal","scale":{"domain":["K","R","G","B","M","C"],"range":["#a0a0a0","#ff6e6e","#5edc5e","#6e6eff","#f06ef0","#5fe0e6"]},"legend":null},"detail":{"field":"k"}}},
{"mark":{"type":"line","strokeWidth":1,"interpolate":"monotone"},"encoding":{"stroke":{"field":"g","type":"nominal","scale":{"domain":["K","R","G","B","M","C"],"range":["#111111","#3a1010","#103a10","#1a1a55","#3a103a","#0f3838"]},"legend":null},"detail":{"field":"k"}}},
{"transform":[{"filter":"datum.q==0.025"}],"mark":{"type":"text","align":"right","dx":-1,"dy":-3,"fontSize":6},"encoding":{"text":{"field":"n"}}},
{"transform":[{"filter":"datum.q==0.32 && datum.g!='K'"}],"mark":{"type":"text","align":"left","dx":3,"fontSize":8.5},"encoding":{"text":{"field":"c"}}}
]},
{"width":85,"height":308,"title":{"text":"c*=10 g/L  T=35° C","offset":-14},"data":{"name":"s"},
"transform":[{"filter":"indexof(datum.k,'e')==0"},{"lookup":"k","from":{"data":{"name":"m"},"key":"k","fields":["n","g","c"]}}],
"encoding":{"x":{"field":"q","type":"quantitative","scale":{"domain":[-0.025,0.465],"nice":false,"zero":false},"axis":{"values":[0,0.1,0.2,0.3],"format":"~g","title":null}},
"y":{"field":"v","type":"quantitative","scale":{"type":"log","domain":[0.0001,1e15],"nice":false},"axis":{"tickCount":200,"labels":false,"title":null,"tickSize":{"condition":{"test":"abs(log(datum.value)/LN10-round(log(datum.value)/LN10))<0.001","value":5},"value":2.5}}}},
"layer":[
{"transform":[{"filter":"datum.q>=0.18"}],"mark":{"type":"line","strokeWidth":4,"opacity":0.4,"interpolate":"monotone"},"encoding":{"color":{"field":"g","type":"nominal","scale":{"domain":["K","R","G","B","M","C"],"range":["#a0a0a0","#ff6e6e","#5edc5e","#6e6eff","#f06ef0","#5fe0e6"]},"legend":null},"detail":{"field":"k"}}},
{"mark":{"type":"line","strokeWidth":1,"interpolate":"monotone"},"encoding":{"stroke":{"field":"g","type":"nominal","scale":{"domain":["K","R","G","B","M","C"],"range":["#111111","#3a1010","#103a10","#1a1a55","#3a103a","#0f3838"]},"legend":null},"detail":{"field":"k"}}},
{"transform":[{"filter":"datum.q==0.025"}],"mark":{"type":"text","align":"right","dx":-1,"dy":-3,"fontSize":6},"encoding":{"text":{"field":"n"}}},
{"transform":[{"filter":"datum.q==0.32 && datum.g!='K'"}],"mark":{"type":"text","align":"left","dx":3,"fontSize":8.5},"encoding":{"text":{"field":"c"}}}
]},
{"width":85,"height":308,"title":{"text":"c*=10 g/L  T=60° C","offset":-14},"data":{"name":"s"},
"transform":[{"filter":"indexof(datum.k,'f')==0"},{"lookup":"k","from":{"data":{"name":"m"},"key":"k","fields":["n","g","c"]}}],
"encoding":{"x":{"field":"q","type":"quantitative","scale":{"domain":[-0.025,0.465],"nice":false,"zero":false},"axis":{"values":[0,0.1,0.2,0.3],"format":"~g","title":null}},
"y":{"field":"v","type":"quantitative","scale":{"type":"log","domain":[0.0001,1e15],"nice":false},"axis":{"tickCount":200,"labels":false,"title":null,"tickSize":{"condition":{"test":"abs(log(datum.value)/LN10-round(log(datum.value)/LN10))<0.001","value":5},"value":2.5}}}},
"layer":[
{"transform":[{"filter":"datum.q>=0.18"}],"mark":{"type":"line","strokeWidth":4,"opacity":0.4,"interpolate":"monotone"},"encoding":{"color":{"field":"g","type":"nominal","scale":{"domain":["K","R","G","B","M","C"],"range":["#a0a0a0","#ff6e6e","#5edc5e","#6e6eff","#f06ef0","#5fe0e6"]},"legend":null},"detail":{"field":"k"}}},
{"mark":{"type":"line","strokeWidth":1,"interpolate":"monotone"},"encoding":{"stroke":{"field":"g","type":"nominal","scale":{"domain":["K","R","G","B","M","C"],"range":["#111111","#3a1010","#103a10","#1a1a55","#3a103a","#0f3838"]},"legend":null},"detail":{"field":"k"}}},
{"transform":[{"filter":"datum.q==0.025"}],"mark":{"type":"text","align":"right","dx":-1,"dy":-3,"fontSize":6},"encoding":{"text":{"field":"n"}}},
{"transform":[{"filter":"datum.q==0.32 && datum.g!='K'"}],"mark":{"type":"text","align":"left","dx":3,"fontSize":8.5},"encoding":{"text":{"field":"c"}}}
]}
],
"config":{
"font":"Liberation Sans",
"view":{"stroke":"#000","strokeWidth":1},
"axis":{"grid":false,"domainColor":"#000","tickColor":"#000","labelColor":"#000","titleColor":"#000","labelFontSize":8,"labelPadding":2},
"axisX":{"tickSize":3},
"title":{"fontSize":8,"fontWeight":"normal","color":"#000"},
"text":{"color":"#000"}
}
}
